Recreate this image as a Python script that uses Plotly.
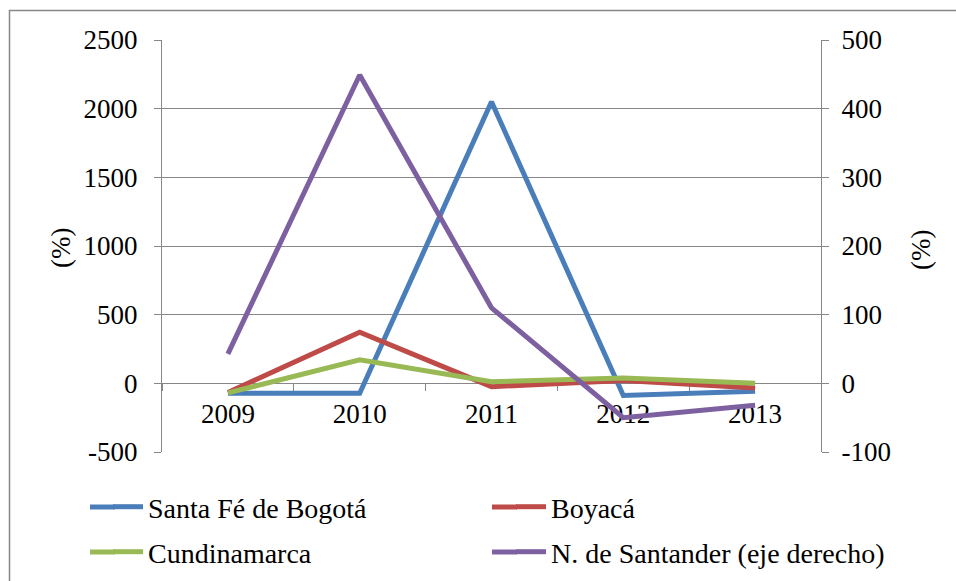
import plotly.graph_objects as go

years = ["2009", "2010", "2011", "2012", "2013"]
bogota = [-73, -73, 2050, -88, -58]
boyaca = [-66, 373, -24, 20, -34]
cundinamarca = [-70, 171, 12, 39, 0]
santander = [43, 449, 110, -50, -32]

left_ticks = [-500, 0, 500, 1000, 1500, 2000, 2500]
left_labels = ["-500", "0", "500", "1000", "1500", "2000", "2500"]
right_ticks = [-100, 0, 100, 200, 300, 400, 500]
right_labels = ["-100", "0", "100", "200", "300", "400", "500"]

names = ["Santa Fé de Bogotá", "Boyacá", "Cundinamarca", "N. de Santander (eje derecho)"]
colors = ["#4A7EBB", "#BE4B48", "#98B954", "#7D60A0"]

W, H = 956, 581
L, R, T, B = 162, 821, 40, 452
pw, ph = R - L, B - T

def px_x(p):
    return (p - L) / pw

def px_y(p):
    return (B - p) / ph

FONT = "Liberation Serif"
GRID = "#878787"
fs = 27
lfs = 28
LW = 5

fig = go.Figure()
series = [bogota, boyaca, cundinamarca, santander]
legends = ["legend", "legend", "legend2", "legend2"]
axes = ["y", "y", "y", "y2"]
for name, vals, col, lg, ax in zip(names, series, colors, legends, axes):
    fig.add_trace(go.Scatter(x=years, y=vals, name=name, mode="lines",
                             line=dict(color=col, width=LW), legend=lg, yaxis=ax))

col1_text = 150
col_gap = 402
row_y = [507, 552]
leg_x = col1_text - 42

legend_common = dict(orientation="h", font=dict(family=FONT, size=lfs, color="black"),
                     bgcolor="rgba(0,0,0,0)", xanchor="left", yanchor="middle",
                     entrywidth=col_gap - 44, entrywidthmode="pixels", itemwidth=30,
                     traceorder="normal")

fig.update_layout(
    template="none",
    width=W, height=H,
    margin=dict(l=L, r=W - R, t=T, b=H - B, pad=0, autoexpand=False),
    paper_bgcolor="white", plot_bgcolor="white",
    font=dict(family=FONT, size=fs, color="black"),
    xaxis=dict(type="category", anchor="free", position=1/6, automargin=False,
               showline=True, linecolor=GRID, linewidth=1.3,
               ticks="outside", ticklen=7, tickcolor=GRID, tickwidth=1.3,
               tickson="boundaries", showgrid=False, zeroline=False,
               tickfont=dict(family=FONT, size=fs, color="black"),
               layer="below traces", ticklabelstandoff=6,
               range=[-0.5, 4.5]),
    yaxis=dict(range=[-500, 2500], tickvals=left_ticks, ticktext=left_labels,
               showgrid=True, automargin=False,
               gridcolor=GRID, gridwidth=1.3, zeroline=False,
               showline=True, linecolor=GRID, linewidth=1.3,
               ticks="outside", ticklen=7, tickcolor=GRID, tickwidth=1.3,
               tickfont=dict(family=FONT, size=fs, color="black"),
               ticklabelstandoff=11),
    yaxis2=dict(range=[-100, 500], tickvals=right_ticks, ticktext=right_labels,
                overlaying="y", side="right",
                showgrid=False, zeroline=False, automargin=False,
                showline=True, linecolor=GRID, linewidth=1.3,
                ticks="outside", ticklen=7, tickcolor=GRID, tickwidth=1.3,
                tickfont=dict(family=FONT, size=fs, color="black"),
                ticklabelstandoff=7),
    legend=dict(x=px_x(leg_x), y=px_y(row_y[0]), **legend_common),
    legend2=dict(x=px_x(leg_x), y=px_y(row_y[1]), **legend_common),
    showlegend=True,
)

# lengthen the legend line samples to the reference's longer keys
for i, col in enumerate(colors):
    r, c = divmod(i, 2)
    x_end = col1_text + c * col_gap - 5
    fig.add_shape(type="line", xref="paper", yref="paper",
                  x0=px_x(x_end - 55), x1=px_x(x_end - 30),
                  y0=px_y(row_y[r]), y1=px_y(row_y[r]),
                  line=dict(color=col, width=LW))

fig.add_annotation(text="(%)", xref="paper", yref="paper", x=px_x(61), y=px_y(248),
                   textangle=-90, showarrow=False, font=dict(family=FONT, size=fs, color="black"),
                   xanchor="center", yanchor="middle")
fig.add_annotation(text="(%)", xref="paper", yref="paper", x=px_x(921), y=px_y(250),
                   textangle=-90, showarrow=False, font=dict(family=FONT, size=fs, color="black"),
                   xanchor="center", yanchor="middle")

fig.add_shape(type="rect", xref="paper", yref="paper",
              x0=px_x(9.5), y0=px_y(10.5), x1=px_x(1000), y1=px_y(650),
              line=dict(color=GRID, width=1.5), fillcolor="rgba(0,0,0,0)", layer="below")

fig.write_html("out.html", config={"displayModeBar": False},
               post_script="document.body.style.margin='0';")
